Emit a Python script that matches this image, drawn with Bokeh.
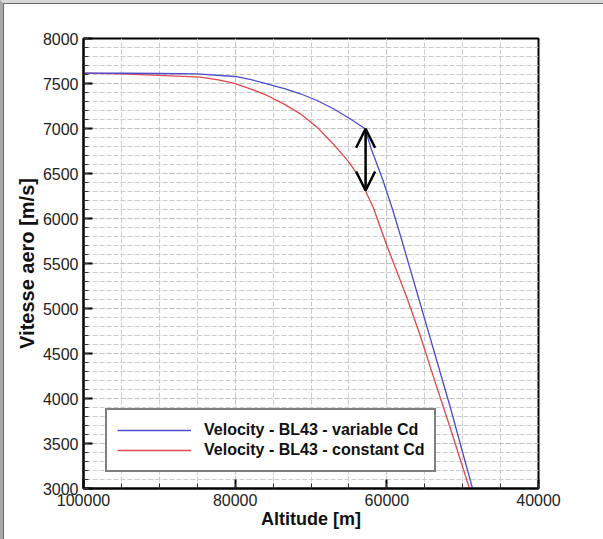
from bokeh.plotting import figure
from bokeh.layouts import column
from bokeh.models import Range1d, FixedTicker, Legend, LegendItem, Arrow, OpenHead
from bokeh.embed import file_html
from bokeh.resources import INLINE

# Velocity - BL43 - variable Cd
altitude_variable = [100000, 95000, 90000, 85000, 80000, 77900, 75800, 73400, 71400,
                     69200, 67100, 64900, 62900, 62000, 60500, 59200, 57900, 56100,
                     54300, 51700, 48700]
velocity_variable = [7615, 7614, 7611, 7606, 7578, 7544, 7497, 7441, 7386,
                     7311, 7222, 7111, 7000, 6760, 6422, 6089, 5722, 5200,
                     4678, 3922, 3000]

# Velocity - BL43 - constant Cd
altitude_constant = [100000, 95000, 90000, 84600, 82400, 80200, 78000, 75800, 73600,
                     71400, 69200, 67100, 66000, 64900, 63800, 62800, 61800, 60000,
                     57400, 55600, 53900, 51700, 49100]
velocity_constant = [7615, 7608, 7590, 7570, 7544, 7503, 7441, 7367, 7274,
                     7163, 7015, 6830, 6726, 6615, 6478, 6303, 6126, 5700,
                     5130, 4700, 4251, 3689, 3000]

series_labels = ["Velocity - BL43 - variable Cd", "Velocity - BL43 - constant Cd"]

x_ticks = [100000, 80000, 60000, 40000]
x_tick_labels = ["100000", "80000", "60000", "40000"]
x_minor = list(range(40000, 100001, 5000))
y_ticks = [3000, 3500, 4000, 4500, 5000, 5500, 6000, 6500, 7000, 7500, 8000]
y_tick_labels = ["3000", "3500", "4000", "4500", "5000", "5500", "6000", "6500",
                 "7000", "7500", "8000"]
y_minor = list(range(3000, 8001, 100))

# double arrow marking the gap between the two curves
arrow_altitude = 62800
arrow_velocity_low = 6311
arrow_velocity_high = 6997

FONT = "Liberation Sans"

p = figure(width=599, height=535,
           x_range=Range1d(100000, 40000), y_range=Range1d(3000, 8000),
           output_backend="svg", toolbar_location=None,
           min_border_left=79, min_border_right=65,
           min_border_top=34, min_border_bottom=51)

p.background_fill_color = "white"
p.border_fill_color = "white"
p.outline_line_color = "black"
p.outline_line_width = 2

for ax, major, minor, labels in ((p.xaxis[0], x_ticks, x_minor, x_tick_labels),
                                 (p.yaxis[0], y_ticks, y_minor, y_tick_labels)):
    ax.ticker = FixedTicker(ticks=major, minor_ticks=minor)
    ax.major_label_overrides = {t: s for t, s in zip(major, labels)}
    ax.axis_line_color = "black"
    ax.axis_line_width = 2
    ax.major_tick_in = 9
    ax.major_tick_out = 0
    ax.major_tick_line_width = 2
    ax.major_tick_line_color = "black"
    ax.minor_tick_in = 5
    ax.minor_tick_out = 0
    ax.minor_tick_line_color = "#333333"
    ax.major_label_text_font = FONT
    ax.major_label_text_font_size = "16px"
    ax.major_label_text_color = "#222222"
    ax.axis_label_text_font = FONT
    ax.axis_label_text_font_style = "bold"
    ax.axis_label_text_color = "#111111"

p.xaxis.major_label_standoff = 5
p.yaxis.major_label_standoff = 5
p.xaxis.axis_label = "Altitude [m]"
p.xaxis.axis_label_text_font_size = "18px"
p.xaxis.axis_label_standoff = 0
p.yaxis.axis_label = "Vitesse aero [m/s]"
p.yaxis.axis_label_text_font_size = "20px"
p.yaxis.axis_label_standoff = 2

for g in (p.xgrid[0], p.ygrid[0]):
    g.grid_line_color = "#c0c0c0"
    g.grid_line_dash = "5 2"
    g.grid_line_width = 1
    g.minor_grid_line_color = "#cccccc"
    g.minor_grid_line_dash = "5 2"
    g.minor_grid_line_width = 1

r_const = p.line(altitude_constant, velocity_constant, line_color="#e2474b", line_width=1.3)
r_var = p.line(altitude_variable, velocity_variable, line_color="#4b4bd0", line_width=1.3)

arrow = Arrow(start=OpenHead(size=19, line_width=2.5, line_color="black"),
              end=OpenHead(size=19, line_width=2.5, line_color="black"),
              x_start=arrow_altitude, y_start=arrow_velocity_low,
              x_end=arrow_altitude, y_end=arrow_velocity_high,
              line_width=2.5, line_color="black")
p.add_layout(arrow)

legend = Legend(items=[LegendItem(label=series_labels[0], renderers=[r_var]),
                       LegendItem(label=series_labels[1], renderers=[r_const])],
                location=(22, 16), margin=0, padding=10, spacing=0,
                glyph_width=74, glyph_height=20, label_height=20,
                label_standoff=13,
                label_text_font=FONT, label_text_font_size="16px",
                label_text_font_style="bold", label_text_color="#111111",
                border_line_color="black", border_line_width=2,
                background_fill_color="white", background_fill_alpha=1.0)
p.add_layout(legend)

page = column(p, width=603, height=539, spacing=0,
              styles={"box-sizing": "border-box",
                      "border-top": "3px solid #d8d8d8",
                      "border-left": "3px solid #a8a8a8",
                      "padding-top": "1px", "padding-left": "1px",
                      "background-color": "white",
                      "box-shadow": "inset 1px 1px 0 0 #6a6a6a",
                      "overflow": "hidden"})

open("out.html", "w").write(file_html(page, INLINE))
